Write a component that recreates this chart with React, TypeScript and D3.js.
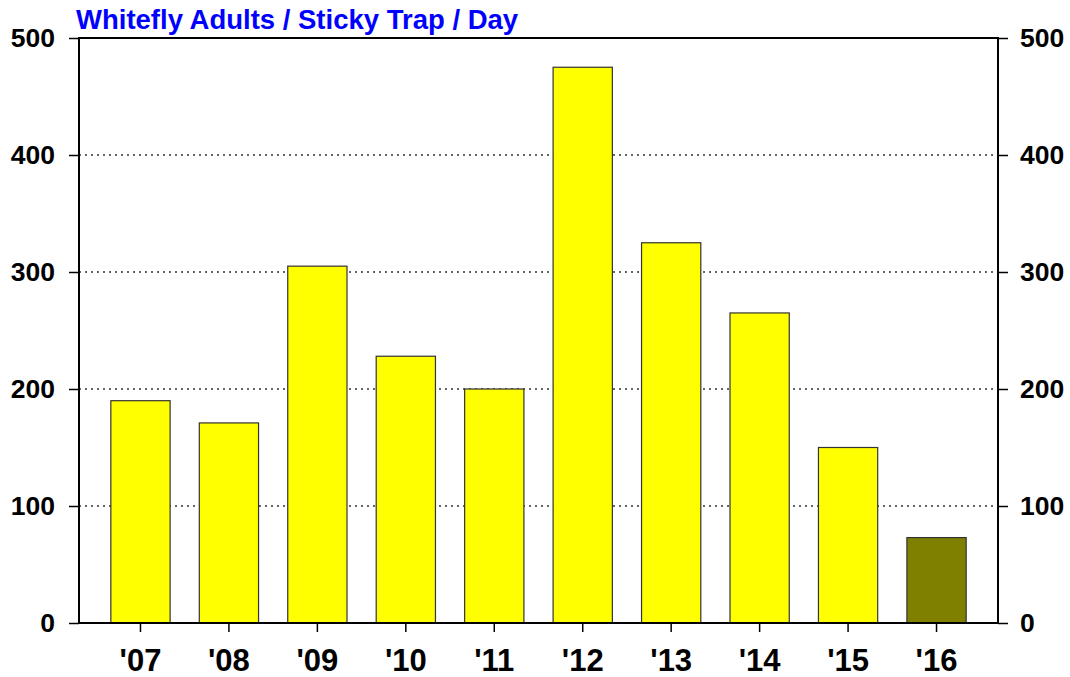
import React, { useRef, useEffect } from "react";
import * as d3 from "d3";

const title = "Whitefly Adults / Sticky Trap / Day";
const years = ["'07", "'08", "'09", "'10", "'11", "'12", "'13", "'14", "'15", "'16"];
const adults = [190, 171, 305, 228, 200, 475, 325, 265, 150, 73];
const yTicks = [0, 100, 200, 300, 400, 500];
const currentYear = "'16";

const App = () => {
  const svgRef = useRef<SVGSVGElement>(null);

  useEffect(() => {
    const w = 1070;
    const h = 677;
    const margin = { top: 38, right: 72, bottom: 54, left: 79 };
    const font = "'Liberation Sans', Arial, sans-serif";

    const svg = d3.select(svgRef.current).attr("width", w).attr("height", h);
    svg.selectAll("*").remove();

    const x = d3
      .scaleBand()
      .domain(years)
      .range([margin.left, w - margin.right])
      .paddingInner(0.33)
      .paddingOuter(0.36);
    const y = d3.scaleLinear().domain([0, 500]).range([h - margin.bottom, margin.top]);

    // dotted grid
    svg
      .append("g")
      .selectAll("line")
      .data(yTicks.filter((t) => t > 0 && t < 500))
      .join("line")
      .attr("x1", margin.left)
      .attr("x2", w - margin.right)
      .attr("y1", (d) => y(d))
      .attr("y2", (d) => y(d))
      .attr("stroke", "#333")
      .attr("stroke-width", 1.5)
      .attr("stroke-dasharray", "2,4");

    // bars
    svg
      .append("g")
      .selectAll("rect")
      .data(years)
      .join("rect")
      .attr("x", (d) => x(d)!)
      .attr("y", (d, i) => y(adults[i]))
      .attr("width", x.bandwidth())
      .attr("height", (d, i) => y(0) - y(adults[i]))
      .attr("fill", (d) => (d === currentYear ? "#808000" : "#ffff00"))
      .attr("stroke", "#333")
      .attr("stroke-width", 1.2);

    function styleAxis(g) {
      g.selectAll(".domain").remove();
      g.selectAll(".tick line").attr("stroke", "#000").attr("stroke-width", 1.5);
      g.selectAll(".tick text")
        .attr("fill", "#000")
        .attr("font-weight", "bold")
        .attr("font-family", font);
    }

    svg
      .append("g")
      .attr("transform", `translate(${margin.left},0)`)
      .call(d3.axisLeft(y).tickValues(yTicks).tickSize(10).tickPadding(14))
      .call(styleAxis)
      .selectAll(".tick text")
      .attr("font-size", 26.5);

    svg
      .append("g")
      .attr("transform", `translate(${w - margin.right},0)`)
      .call(d3.axisRight(y).tickValues(yTicks).tickSize(10).tickPadding(12))
      .call(styleAxis)
      .selectAll(".tick text")
      .attr("font-size", 26.5);

    const xg = svg
      .append("g")
      .attr("transform", `translate(0,${h - margin.bottom})`)
      .call(d3.axisBottom(x).tickSize(9).tickPadding(17))
      .call(styleAxis);
    xg.selectAll(".tick text").attr("font-size", 31);

    // frame
    svg
      .append("rect")
      .attr("x", margin.left)
      .attr("y", margin.top)
      .attr("width", w - margin.left - margin.right)
      .attr("height", h - margin.top - margin.bottom)
      .attr("fill", "none")
      .attr("stroke", "#000")
      .attr("stroke-width", 2);

    svg
      .append("text")
      .attr("x", 76)
      .attr("y", 29)
      .attr("fill", "#0000ff")
      .attr("font-family", font)
      .attr("font-weight", "bold")
      .attr("font-size", 27.5)
      .text(title);
  }, []);

  return (
    <div style={{ position: "absolute", left: 0, top: 0 }}>
      <svg ref={svgRef} style={{ display: "block", background: "#fff" }}></svg>
    </div>
  );
};

export default App;
